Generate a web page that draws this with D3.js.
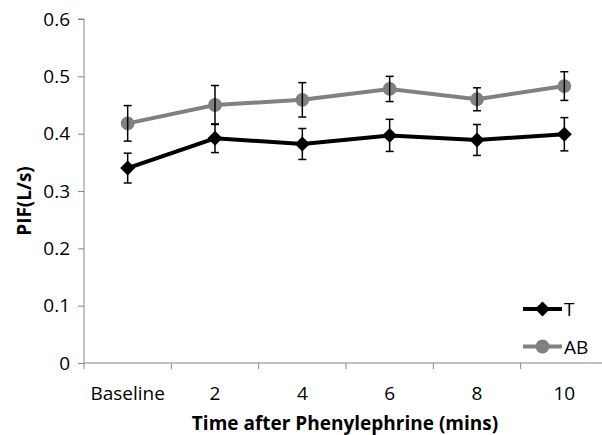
<!DOCTYPE html>
<html>
<head>
<meta charset="utf-8">
<script src="https://cdn.jsdelivr.net/npm/d3@7"></script>
<style>
  body { margin: 0; background: #fff; }
  svg { display: block; font-family: "Open Sans", sans-serif; }
</style>
</head>
<body>
<div id="chart"></div>
<script>
const categories = ["Baseline", "2", "4", "6", "8", "10"];
const tValues = [0.340, 0.392, 0.382, 0.397, 0.389, 0.399];
const tErrors = [0.026, 0.025, 0.027, 0.028, 0.027, 0.029];
const abValues = [0.418, 0.450, 0.459, 0.478, 0.460, 0.483];
const abErrors = [0.031, 0.034, 0.030, 0.022, 0.020, 0.025];
const yTicks = [0, 0.1, 0.2, 0.3, 0.4, 0.5, 0.6];

const W = 602, H = 435;
const margin = { top: 19, right: -6, bottom: 72, left: 84 };
const width = W - margin.left - margin.right;
const height = H - margin.top - margin.bottom;
const fontSize = 19;

const svg = d3.select("#chart").append("svg")
    .attr("width", W)
    .attr("height", H);

const g = svg.append("g")
    .attr("transform", `translate(${margin.left},${margin.top})`);

const x = d3.scaleBand().domain(categories).range([0, width]);
const y = d3.scaleLinear().domain([0, 0.6]).range([height, 0]);
const cx = d => x(d) + x.bandwidth() / 2;

// y axis
const yAxis = g.append("g")
    .call(d3.axisLeft(y).tickValues(yTicks).tickSize(6).tickPadding(8)
        .tickFormat(d => d === 0 ? "0" : d3.format(".1f")(d)));
yAxis.selectAll("line, path").attr("stroke", "#868686");
yAxis.select(".domain").attr("d", `M-6,${y(0.6)}H0V${height}`);
yAxis.selectAll("text").attr("font-size", fontSize).attr("fill", "#000")
    .attr("font-family", "Open Sans");

// x axis with ticks on band edges
const xg = g.append("g").attr("transform", `translate(0,${height})`);
xg.append("line").attr("x1", 0).attr("x2", width)
    .attr("stroke", "#868686");
xg.selectAll(".edge").data(categories).join("line")
    .attr("x1", d => x(d)).attr("x2", d => x(d))
    .attr("y1", 0).attr("y2", 6)
    .attr("stroke", "#868686");
xg.selectAll("text").data(categories).join("text")
    .attr("x", cx)
    .attr("y", 37)
    .attr("text-anchor", "middle")
    .attr("font-size", fontSize)
    .text(d => d);

// axis titles
svg.append("text")
    .attr("x", margin.left + (x.range()[1]) / 2 - 1)
    .attr("y", 430)
    .attr("text-anchor", "middle")
    .attr("font-size", fontSize)
    .attr("font-weight", "bold")
    .text("Time after Phenylephrine (mins)");

svg.append("text")
    .attr("transform", "translate(31,201) rotate(-90)")
    .attr("text-anchor", "middle")
    .attr("font-size", fontSize)
    .attr("font-weight", "bold")
    .text("PIF(L/s)");

const series = [
    { name: "T", values: tValues, errors: tErrors, color: "#000000", shape: d3.symbolSquare, size: 112, rotate: 45 },
    { name: "AB", values: abValues, errors: abErrors, color: "#808080", shape: d3.symbolCircle, size: 150, rotate: 0 }
];

const line = d3.line().x((d, i) => cx(categories[i])).y(d => y(d));

// lines and markers (AB first so T sits on top)
series.slice().reverse().forEach(s => {
    g.append("path")
        .datum(s.values)
        .attr("d", line)
        .attr("fill", "none")
        .attr("stroke", s.color)
        .attr("stroke-width", 4);

    g.selectAll(null).data(s.values).join("path")
        .attr("transform", (d, i) => `translate(${cx(categories[i])},${y(d)}) rotate(${s.rotate})`)
        .attr("d", d3.symbol().type(s.shape).size(s.size))
        .attr("fill", s.color);
});

// error bars
series.forEach(s => {
    const eb = g.append("g").attr("stroke", "#000").attr("stroke-width", 1.5);
    s.values.forEach((v, i) => {
        const px = cx(categories[i]);
        const top = y(v + s.errors[i]), bot = y(v - s.errors[i]);
        eb.append("line").attr("x1", px).attr("x2", px).attr("y1", top).attr("y2", bot);
        eb.append("line").attr("x1", px - 4).attr("x2", px + 4).attr("y1", top).attr("y2", top);
        eb.append("line").attr("x1", px - 4).attr("x2", px + 4).attr("y1", bot).attr("y2", bot);
    });
});

// legend
const legend = svg.append("g").attr("transform", "translate(523,309)");
series.forEach((s, i) => {
    const lg = legend.append("g").attr("transform", `translate(0,${i * 37.5})`);
    lg.append("line").attr("x1", 0).attr("x2", 39)
        .attr("stroke", s.color).attr("stroke-width", 4);
    lg.append("path")
        .attr("transform", `translate(19.5,0) rotate(${s.rotate})`)
        .attr("d", d3.symbol().type(s.shape).size(s.size))
        .attr("fill", s.color);
    lg.append("text")
        .attr("x", 41)
        .attr("y", 7)
        .attr("font-size", fontSize)
        .text(s.name);
});
</script>
</body>
</html>
